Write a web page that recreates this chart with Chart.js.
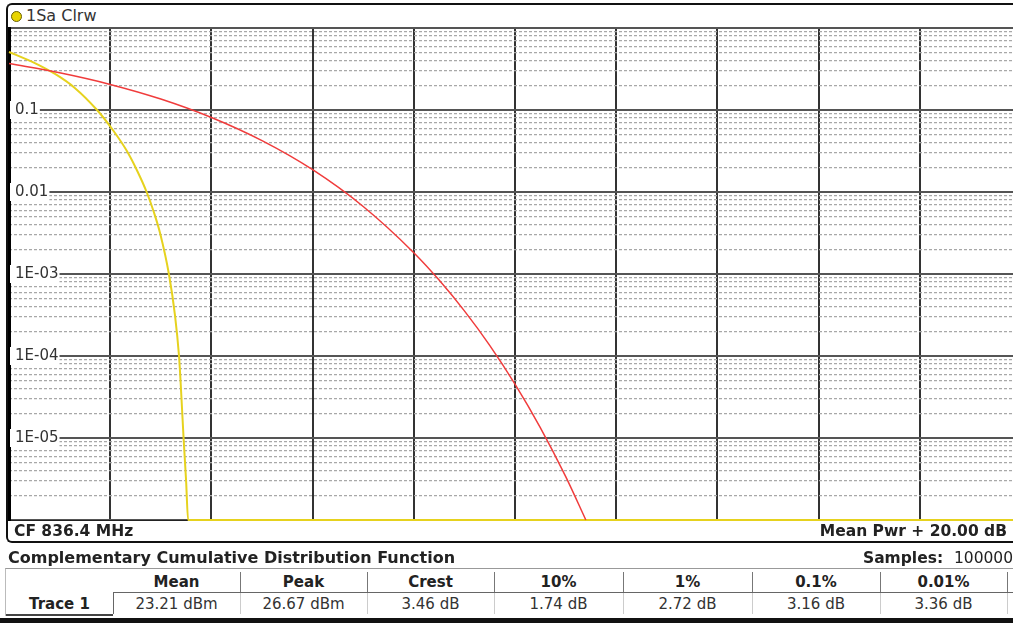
<!DOCTYPE html>
<html>
<head>
<meta charset="utf-8">
<title>CCDF</title>
<script src="https://cdn.jsdelivr.net/npm/chart.js@4.4.1/dist/chart.umd.min.js"></script>
<style>
  body { margin:0; width:1013px; height:623px; overflow:hidden; background:#fff;
         font-family:"DejaVu Sans", Verdana, sans-serif; color:#222; position:relative; }
  .abs { position:absolute; white-space:nowrap; }
  #win { position:absolute; left:6px; top:3px; width:1040px; height:536px;
         border:2px solid #111; border-right:none; border-radius:6px 0 0 6px; }
  #hdrline { position:absolute; left:8px; top:27px; width:1040px; height:1px; background:#999; }
  #dot { position:absolute; left:11px; top:11px; width:9px; height:9px; border-radius:50%;
         background:#e8d400; border:1px solid #6a6000; }
  #plot { position:absolute; left:7px; top:26px; width:1016px; height:497px; }
  .b { font-weight:bold; }
  #tbl { position:absolute; left:5px; top:568px; width:1040px; height:47px;
         border-top:1px solid #999; border-left:1px solid #bbb; }
  .cell { position:absolute; text-align:center; font-size:15px; }
  .vline { position:absolute; width:1px; }
  #bottomband { position:absolute; left:0; top:618px; width:1013px; height:5px; background:#111; }
</style>
</head>
<body>
<div id="win"></div>
<div id="hdrline"></div>
<div id="dot"></div>
<div class="abs" style="left:26px;top:6px;font-size:16px;color:#333">1Sa Clrw</div>
<div id="plot"><canvas id="ccdfChart"></canvas></div>
<div class="abs b" style="left:14px;top:522px;font-size:15.5px">CF 836.4 MHz</div>
<div class="abs b" style="right:6px;top:522px;font-size:15.5px">Mean Pwr + 20.00 dB</div>
<div class="abs b" style="left:8px;top:548px;font-size:16px">Complementary Cumulative Distribution Function</div>
<div class="abs b" style="left:863px;top:549px;font-size:15.5px">Samples:&nbsp; <span style="font-weight:normal">100000</span></div>
<div id="tbl"></div>
<div id="bottomband"></div>
<script>
// x axis: dB above mean power, y axis: probability
const xTicks = [0, 2, 4, 6, 8, 10, 12, 14, 16, 18, 20];
const majorTickValues = [1, 0.1, 0.01, 1e-3, 1e-4, 1e-5, 1e-6];
const majorTickLabels = ['', '0.1', '0.01', '1E-03', '1E-04', '1E-05', ''];
const minorSteps = [2, 3, 4, 5, 6, 7, 8, 9];

// gaussian reference trace (red)
const redDb   = [0, 1, 2, 3, 4, 5, 6, 7, 8, 8.5, 9, 9.5, 10, 10.5, 11, 11.4];
const redProb = [0.368, 0.284, 0.205, 0.136, 0.081, 0.0423, 0.0187, 0.00666, 0.00182,
                 0.000843, 0.000355, 0.000135, 0.0000454, 0.0000134, 0.0000034, 0.000001];

// measured trace 1 (yellow)
const yellowDb   = [0, 0.45, 0.91, 1.3, 1.74, 2.06, 2.33, 2.54, 2.72, 2.865, 2.985, 3.16,
                    3.28, 3.36, 3.39, 3.45, 3.50, 3.54, 20];
const yellowProb = [0.51, 0.39, 0.275, 0.186, 0.1, 0.0562, 0.0316, 0.0178, 0.01, 0.00562,
                    0.00316, 0.001, 0.000316, 0.0001, 0.00005, 0.00001, 0.000003,
                    0.000001, 0.000001];

// statistics table
const statHeaders = ['Mean', 'Peak', 'Crest', '10%', '1%', '0.1%', '0.01%'];
const statValues  = ['23.21 dBm', '26.67 dBm', '3.46 dB', '1.74 dB', '2.72 dB', '3.16 dB', '3.36 dB'];
const colEdges = [113, 240, 367, 494, 623, 752, 880, 1007];

// build table (positions relative to #tbl at x=5)
const tbl = document.getElementById('tbl');
const ox = 6;
let html = '';
for (let i = 0; i < statHeaders.length; i++) {
  const l = colEdges[i] - ox, w = colEdges[i + 1] - colEdges[i];
  html += `<div class="cell b" style="left:${l}px;top:4px;width:${w}px">${statHeaders[i]}</div>`;
  html += `<div class="cell" style="left:${l}px;top:26px;width:${w}px;color:#333">${statValues[i]}</div>`;
  html += `<div class="vline" style="left:${colEdges[i + 1] - ox}px;top:3px;height:20px;background:#777"></div>`;
  html += `<div class="vline" style="left:${colEdges[i + 1] - ox}px;top:24px;height:21px;background:#ccc"></div>`;
}
html += `<div class="abs" style="left:${colEdges[0] - ox}px;top:23px;width:1000px;height:1px;background:#666"></div>`;
html += `<div class="abs" style="left:${colEdges[0] - ox}px;top:23px;width:1px;height:22px;background:#666"></div>`;
html += `<div class="abs" style="left:0;top:45px;width:${colEdges[0] - ox}px;height:2px;background:#444"></div>`;
html += `<div class="cell b" style="left:0;top:26px;width:${colEdges[0] - ox}px">Trace 1</div>`;
tbl.innerHTML = html;

const ctx = document.getElementById('ccdfChart').getContext('2d');

const minorTickValues = [];
for (let e = -6; e < 0; e++) {
  minorSteps.forEach(s => minorTickValues.push(s * Math.pow(10, e)));
}

const isMajorLabel = v => majorTickLabels[majorTickValues.indexOf(v)] ? true : false;

// keep the axes from eating into the plot area
const noSizeV = s => { s.width = 0; s.paddingTop = 0; s.paddingBottom = 0; s.paddingLeft = 0; s.paddingRight = 0; };
const noSizeH = s => { s.height = 0; s.paddingTop = 0; s.paddingBottom = 0; s.paddingLeft = 0; s.paddingRight = 0; };

const config = {
  type: 'line',
  data: {
    datasets: [
      {
        label: 'Gaussian',
        data: redDb.map((x, i) => ({ x: x, y: redProb[i] })),
        borderColor: '#f03c3c',
        borderWidth: 1.5,
        pointRadius: 0,
        cubicInterpolationMode: 'monotone',
        clip: false
      },
      {
        label: 'Trace 1',
        data: yellowDb.map((x, i) => ({ x: x, y: yellowProb[i] })),
        borderColor: '#e6d21e',
        borderWidth: 2,
        pointRadius: 0,
        cubicInterpolationMode: 'monotone',
        clip: false
      }
    ]
  },
  options: {
    responsive: true,
    maintainAspectRatio: false,
    animation: false,
    layout: { autoPadding: false, padding: { left: 2, top: 2, right: 2, bottom: 3 } },
    plugins: { legend: { display: false }, tooltip: { enabled: false } },
    scales: {
      x: {
        type: 'linear',
        min: 0,
        max: 20,
        afterBuildTicks: scale => { scale.ticks = xTicks.map(v => ({ value: v })); },
        afterFit: noSizeH,
        ticks: { display: false },
        grid: { color: '#333', lineWidth: 2, drawTicks: false },
        border: { color: '#222', width: 1 }
      },
      y2: {
        type: 'logarithmic',
        position: 'left',
        min: 1e-6,
        max: 1,
        afterBuildTicks: scale => { scale.ticks = minorTickValues.map(v => ({ value: v })); },
        afterFit: noSizeV,
        ticks: { display: false },
        grid: { color: '#a8a8a8', lineWidth: 1.2, drawTicks: false, z: -1 },
        border: { display: false, dash: [3, 2] }
      },
      y: {
        type: 'logarithmic',
        position: 'left',
        min: 1e-6,
        max: 1,
        afterBuildTicks: scale => { scale.ticks = majorTickValues.map(v => ({ value: v })); },
        afterFit: noSizeV,
        ticks: {
          mirror: true,
          padding: 6,
          autoSkip: false,
          color: '#333',
          font: { family: 'DejaVu Sans', size: 15 },
          callback: (value, index) => majorTickLabels[index],
          showLabelBackdrop: c => isMajorLabel(c.tick.value),
          backdropColor: '#fff',
          backdropPadding: { left: 5, right: 1, top: 0, bottom: 0 }
        },
        grid: { color: '#555', lineWidth: 2, drawTicks: false },
        border: { color: '#000', width: 3 }
      }
    }
  }
};

const ccdfChart = new Chart(ctx, config);
</script>
</body>
</html>
